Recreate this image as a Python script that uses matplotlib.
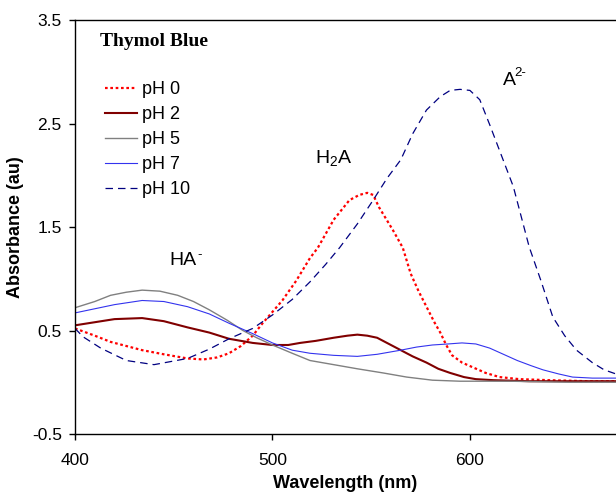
"""Thymol blue absorbance spectra at several pH values."""

import matplotlib
matplotlib.use("Agg")
import matplotlib.pyplot as plt

# pH 0 (red dotted)
wl_ph0 = [400, 410, 418, 426, 434, 445, 457, 465, 472, 478, 484, 490, 495, 500, 505, 512,
          519, 523, 531, 539, 544, 548, 551, 554, 561, 566, 570, 574, 578, 582, 585, 588,
          591, 596, 602, 608, 615, 625, 640, 660, 674]
ab_ph0 = [0.52, 0.45, 0.39, 0.35, 0.31, 0.27, 0.23, 0.22, 0.24, 0.28, 0.35, 0.45, 0.57, 0.68,
          0.79, 0.98, 1.20, 1.30, 1.57, 1.76, 1.81, 1.83, 1.81, 1.69, 1.47, 1.30, 1.05, 0.88,
          0.73, 0.58, 0.48, 0.36, 0.26, 0.19, 0.14, 0.09, 0.05, 0.03, 0.02, 0.01, 0.01]

# pH 2 (dark red solid)
wl_ph2 = [400, 410, 420, 434, 445, 457, 468, 478, 490, 500, 508, 514, 522, 531, 538, 543,
          548, 553, 559, 565, 571, 578, 584, 590, 597, 603, 612, 630, 650, 674]
ab_ph2 = [0.55, 0.58, 0.61, 0.62, 0.59, 0.53, 0.48, 0.42, 0.38, 0.36, 0.36, 0.38, 0.40, 0.43,
          0.45, 0.46, 0.45, 0.43, 0.37, 0.31, 0.25, 0.19, 0.13, 0.09, 0.05, 0.03, 0.02, 0.01,
          0.01, 0.01]

# pH 5 (gray solid)
wl_ph5 = [400, 410, 418, 426, 434, 443, 452, 460, 468, 477, 485, 492, 500, 510, 519, 531,
          543, 556, 568, 581, 595, 620, 650, 674]
ab_ph5 = [0.72, 0.78, 0.84, 0.87, 0.89, 0.88, 0.84, 0.78, 0.70, 0.60, 0.50, 0.43, 0.36, 0.28,
          0.21, 0.17, 0.13, 0.09, 0.05, 0.02, 0.01, 0.01, 0.00, 0.00]

# pH 7 (blue solid)
wl_ph7 = [400, 410, 420, 434, 445, 457, 468, 478, 490, 500, 510, 519, 531, 543, 553, 565,
          573, 581, 589, 596, 603, 610, 617, 624, 631, 637, 645, 652, 662, 674]
ab_ph7 = [0.67, 0.71, 0.75, 0.79, 0.78, 0.73, 0.66, 0.57, 0.47, 0.38, 0.31, 0.28, 0.26, 0.25,
          0.27, 0.31, 0.34, 0.36, 0.37, 0.38, 0.37, 0.33, 0.27, 0.21, 0.16, 0.12, 0.08, 0.05,
          0.04, 0.04]

# pH 10 (navy dashed)
wl_ph10 = [400, 404, 413, 426, 440, 457, 468, 478, 490, 500, 510, 519, 527, 534, 543, 551,
           558, 565, 571, 578, 585, 590, 595, 600, 605, 610, 615, 622, 630, 636, 642, 648,
           654, 662, 668, 674]
ab_ph10 = [0.52, 0.44, 0.33, 0.21, 0.17, 0.23, 0.32, 0.42, 0.52, 0.65, 0.80, 0.97, 1.14, 1.30,
           1.53, 1.76, 1.97, 2.15, 2.40, 2.63, 2.76, 2.82, 2.83, 2.82, 2.73, 2.49, 2.24, 1.89,
           1.31, 0.98, 0.63, 0.45, 0.31, 0.19, 0.12, 0.08]

x_ticks = [400, 500, 600]
y_ticks = [-0.5, 0.5, 1.5, 2.5, 3.5]


def main() -> None:
    plt.rcParams["font.family"] = ["Liberation Sans", "DejaVu Sans"]
    plt.rcParams["mathtext.fontset"] = "custom"
    plt.rcParams["mathtext.rm"] = "Liberation Sans"
    plt.rcParams["mathtext.it"] = "Liberation Sans"
    fig = plt.figure(figsize=(6.16, 4.92), dpi=100)
    ax = fig.add_axes([0.1218, 0.1179, 0.8782, 0.8414])

    ax.plot(wl_ph0, ab_ph0, color="#ff0000", linestyle=(0, (1.2, 1.2)), linewidth=1.6, label="pH 0")
    ax.plot(wl_ph2, ab_ph2, color="#800000", linestyle="-", linewidth=1.5, label="pH 2")
    ax.plot(wl_ph5, ab_ph5, color="#808080", linestyle="-", linewidth=1.0, label="pH 5")
    ax.plot(wl_ph7, ab_ph7, color="#3333ee", linestyle="-", linewidth=0.8, label="pH 7")
    ax.plot(wl_ph10, ab_ph10, color="#000080", linestyle=(0, (6, 4)), linewidth=0.9, label="pH 10")

    ax.set_xlim(400, 674)
    ax.set_ylim(-0.5, 3.5)
    ax.set_xticks(x_ticks)
    ax.set_yticks(y_ticks)
    ax.set_yticklabels([f"{v:g}" for v in y_ticks])
    ax.tick_params(labelsize=12.5, direction="out", length=4.5, width=1, pad=5)
    ax.tick_params(axis="x", pad=9)
    ax.spines["right"].set_visible(False)
    for s in ("left", "bottom", "top"):
        ax.spines[s].set_linewidth(1.0)

    ax.set_xlabel("Wavelength (nm)", fontsize=13, fontweight="bold", labelpad=5)
    ax.set_ylabel("Absorbance (au)", fontsize=13, fontweight="bold", labelpad=6)

    ax.text(0.046, 0.947, "Thymol Blue", transform=ax.transAxes, fontsize=14,
            fontweight="bold", family="Liberation Serif", va="center", ha="left")
    ax.legend(loc="upper left", bbox_to_anchor=(0.0555, 0.853), frameon=False, fontsize=13,
              handlelength=1.75, handletextpad=0.28, labelspacing=0.45, borderaxespad=0,
              borderpad=0)

    # species labels
    ax.text(521.5, 2.17, r"H$_\mathrm{2}$A", fontsize=14, ha="left", va="center")
    ax.text(616.7, 2.92, "A", fontsize=14, ha="left", va="center")
    ax.annotate("2-", xy=(616.7, 2.92), xytext=(8.5, 0.5), textcoords="offset points",
                fontsize=9.5, ha="left", va="bottom")
    ax.text(448, 1.18, "HA", fontsize=14, ha="left", va="center")
    ax.annotate("-", xy=(448, 1.18), xytext=(20, -1), textcoords="offset points",
                fontsize=9.5, ha="left", va="bottom")

    fig.savefig("out.png", dpi=100)
    plt.close(fig)


if __name__ == "__main__":
    main()
